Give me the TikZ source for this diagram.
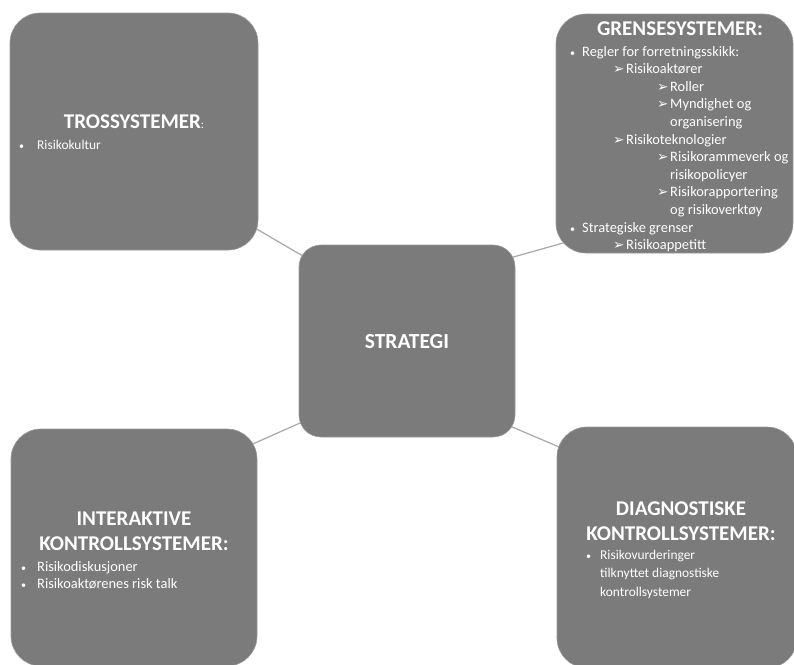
\documentclass[tikz,border=0pt]{standalone}
\usepackage{fontspec}
\setmainfont{Carlito}
\newfontfamily\symfont{DejaVu Sans}
\usetikzlibrary{calc}
\definecolor{boxgray}{HTML}{7B7B7B}
\definecolor{boxedge}{HTML}{9A9A9A}
\definecolor{linegray}{HTML}{A8A8A8}
\pgfdeclarelayer{bg}
\pgfsetlayers{bg,main}
\newcommand{\arr}{{\symfont\fontsize{13.5}{14}\selectfont ➢}}
\newcommand{\bul}{{\fontsize{10}{12}\selectfont •}}
\begin{document}
\begin{tikzpicture}[x=1pt,y=-1pt,
  box/.style={rectangle, rounded corners=30pt, fill=boxgray, draw=boxedge, line width=0.6pt, inner sep=0pt},
  head/.style={text=white, font=\bfseries\fontsize{21}{24}\selectfont, inner sep=0pt, anchor=base},
  item/.style={text=white, font=\fontsize{14.4}{17}\selectfont, inner sep=0pt, anchor=base west},
  smallitem/.style={item, font=\fontsize{13.4}{16}\selectfont},
  bmark/.style={text=white, inner sep=0pt, anchor=base west},
  conn/.style={draw=linegray, line width=1.2pt}]
\useasboundingbox (0,0) rectangle (794,664);

% boxes
\node[box, minimum width=248pt, minimum height=237pt] (tl) at (134,131.5) {};
\node[box, rounded corners=22pt, minimum width=216pt, minimum height=192pt] (c) at (407,341) {};
\node[box, minimum width=237pt, minimum height=239pt] (tr) at (674.5,133.5) {};
\node[box, minimum width=246pt, minimum height=237pt] (bl) at (134,547.5) {};
\node[box, minimum width=240pt, minimum height=241pt] (br) at (677,547.5) {};

% connectors
\begin{pgfonlayer}{bg}
\fill[white] (0,0) rectangle (794,664);
\draw[conn] ($(tl.south east)+(-20,-32)$) -- ($(c.north west)+(26,24)$);
\draw[conn] ($(c.north east)+(-15,16)$) -- ($(tr.south west)+(24,-15)$);
\draw[conn] ($(c.south west)+(21,-23)$) -- ($(bl.north east)+(-22,23)$);
\draw[conn] ($(c.south east)+(-20,-17.5)$) -- ($(br.north west)+(23,29)$);
\end{pgfonlayer}

% centre
\node[head, font=\bfseries\fontsize{21.5}{24}\selectfont] (ct) at (407,348.3) {STRATEGI};

% top left
\node[head] (tlh) at (134,128.5) {TROSSYSTEMER{\normalfont\fontsize{12}{14}\selectfont:}};
\node[bmark] (tlb1) at (19,149) {\bul};
\node[smallitem] (tl1) at (37,149) {Risikokultur};

% top right
\node[head] (trh) at (680,35) {GRENSESYSTEMER:};
\node[bmark] (trb0) at (570,56) {\bul};
\node[item] (tr0) at (582,56) {Regler for forretningsskikk:};
\node[bmark] (tra1) at (613,73.6) {\arr};
\node[item] (tr1) at (626,73.6) {Risikoaktører};
\node[bmark] (tra2) at (657,91.2) {\arr};
\node[item] (tr2) at (670,91.2) {Roller};
\node[bmark] (tra3) at (657,108.8) {\arr};
\node[item] (tr3) at (670,108.8) {Myndighet og};
\node[item] (tr4) at (670,126.4) {organisering};
\node[bmark] (tra5) at (613,144) {\arr};
\node[item] (tr5) at (626,144) {Risikoteknologier};
\node[bmark] (tra6) at (657,161.6) {\arr};
\node[item] (tr6) at (670,161.6) {Risikorammeverk og};
\node[item] (tr7) at (670,179.2) {risikopolicyer};
\node[bmark] (tra8) at (657,196.8) {\arr};
\node[item] (tr8) at (670,196.8) {Risikorapportering};
\node[item] (tr9) at (670,214.4) {og risikoverktøy};
\node[bmark] (trb10) at (570,232) {\bul};
\node[item] (tr10) at (582,232) {Strategiske grenser};
\node[bmark] (tra11) at (613,249.6) {\arr};
\node[item] (tr11) at (626,249.6) {Risikoappetitt};

% bottom left
\node[head] (blh1) at (134,525) {INTERAKTIVE};
\node[head] (blh2) at (134,550) {KONTROLLSYSTEMER:};
\node[bmark] (blb1) at (21,571.5) {\bul};
\node[item] (bl1) at (37,571.5) {Risikodiskusjoner};
\node[bmark] (blb2) at (21,588) {\bul};
\node[item] (bl2) at (37,588) {Risikoaktørenes risk talk};

% bottom right
\node[head] (brh1) at (681,515) {DIAGNOSTISKE};
\node[head] (brh2) at (681,540) {KONTROLLSYSTEMER:};
\node[bmark] (brb1) at (586,559.5) {\bul};
\node[smallitem] (br1) at (600,559.5) {Risikovurderinger};
\node[smallitem] (br2) at (600,577.8) {tilknyttet diagnostiske};
\node[smallitem] (br3) at (600,596) {kontrollsystemer};
\end{tikzpicture}
\end{document}
